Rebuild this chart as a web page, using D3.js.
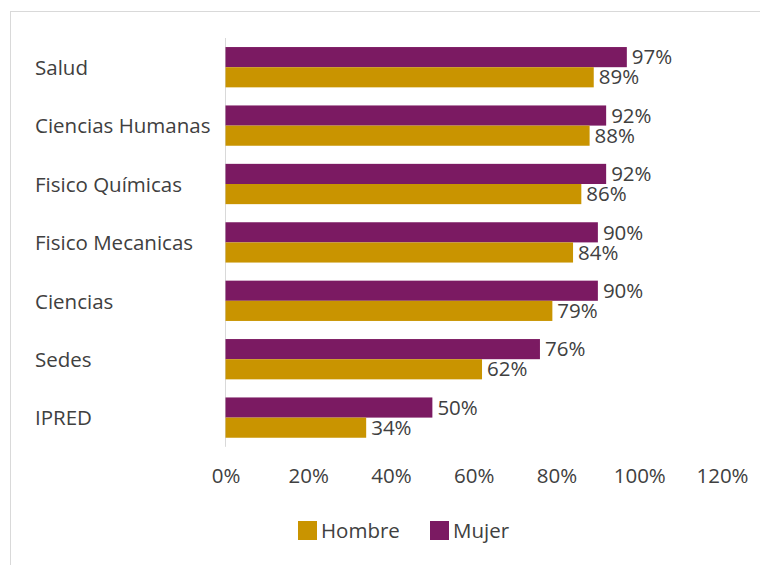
<!DOCTYPE html>
<html><head><meta charset="utf-8">
<script src="https://cdn.jsdelivr.net/npm/d3@7"></script>
<style>body{margin:0;background:#fff}svg{display:block}text{font-family:"Open Sans",sans-serif;fill:#404040}</style>
</head><body><svg id="c" width="760" height="565"></svg>
<script>
const categories = ["Salud","Ciencias Humanas","Fisico Químicas","Fisico Mecanicas","Ciencias","Sedes","IPRED"];
const mujer = [0.97,0.92,0.92,0.90,0.90,0.76,0.50];
const hombre = [0.89,0.88,0.86,0.84,0.79,0.62,0.34];
const seriesNames = ["Mujer","Hombre"];
const legendNames = ["Hombre","Mujer"];
const colors = {Mujer:"#7B1A62", Hombre:"#C99400"};
const tickValues = [0,0.2,0.4,0.6,0.8,1.0,1.2];

const FS = 20.5;
const svg = d3.select("#c");
svg.append("rect").attr("x",10.5).attr("y",11.5).attr("width",760).attr("height",560)
  .attr("fill","none").attr("stroke","#d9d9d9");

const x = d3.scaleLinear().domain([0,1.2]).range([225.5,722]);
const y = d3.scaleBand().domain(categories).range([38,446.8]).paddingInner(0.31).paddingOuter(0.155);
const ys = d3.scaleBand().domain(seriesNames).range([0,y.bandwidth()]);

svg.append("line").attr("x1",225.5).attr("x2",225.5).attr("y1",38).attr("y2",446.8)
  .attr("stroke","#d9d9d9").attr("stroke-width",1);

const fmt = d3.format(".0%");
const data = {Mujer:mujer, Hombre:hombre};
seriesNames.forEach(s=>{
  const g = svg.append("g");
  g.selectAll("rect").data(categories).join("rect")
    .attr("x",x(0)).attr("y",(c)=>y(c)+ys(s))
    .attr("width",(c,i)=>x(data[s][i])-x(0)).attr("height",ys.bandwidth())
    .attr("fill",colors[s]);
  g.selectAll("text").data(categories).join("text")
    .attr("x",(c,i)=>x(data[s][i])+5).attr("y",(c)=>y(c)+ys(s)+ys.bandwidth()/2)
    .attr("dy","0.35em").attr("font-size",FS).text((c,i)=>fmt(data[s][i]));
});

svg.selectAll(".cat").data(categories).join("text").attr("class","cat")
  .attr("x",35).attr("y",c=>y(c)+y.bandwidth()/2).attr("dy","0.38em")
  .attr("font-size",FS).text(c=>c);

const ax = d3.axisBottom(x).tickValues(tickValues).tickFormat(fmt).tickSize(0).tickPadding(0);
const axg = svg.append("g").attr("transform","translate(0,476)").call(ax);
axg.select(".domain").remove();
axg.selectAll("text").attr("font-size",FS).attr("dy","0.35em").attr("y",0).style("font-family","'Open Sans',sans-serif").attr("fill","#404040");

const leg = svg.append("g");
const lx = [298,430];
legendNames.forEach((n,i)=>{
  leg.append("rect").attr("x",lx[i]).attr("y",521).attr("width",19).attr("height",19).attr("fill",colors[n]);
  leg.append("text").attr("x",lx[i]+23).attr("y",530.5).attr("dy","0.35em").attr("font-size",FS).text(n);
});
</script></body></html>
